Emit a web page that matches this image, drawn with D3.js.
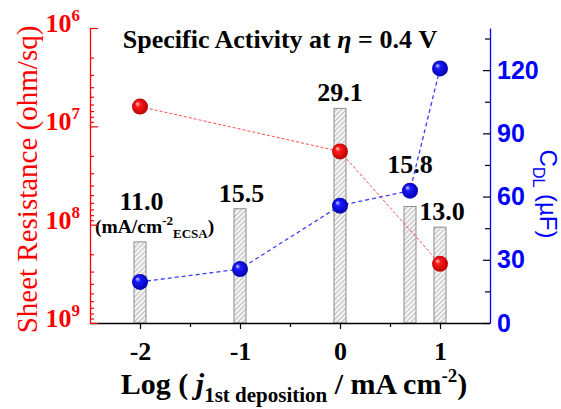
<!DOCTYPE html>
<html><head><meta charset="utf-8">
<script src="https://cdn.jsdelivr.net/npm/d3@7"></script>
<style>body{margin:0;background:#fff}svg{display:block}</style>
</head><body>
<svg id="c" width="561" height="409"></svg>
<script>
// ---- data ----
const barX = [-2, -1, 0, 0.7, 1];
const activity = [11.0, 15.5, 29.1, 15.8, 13.0];
const activityLabels = ["11.0", "15.5", "29.1", "15.8", "13.0"];
const resistanceX = [-2, 0, 1];
const sheetResistance = [6.3e6, 1.8e7, 2.5e8];
const cdlX = [-2, -1, 0, 0.7, 1];
const cdl = [19.5, 25.6, 55.7, 62.8, 120.8];
const xTicks = [-2, -1, 0, 1];
const xMinorTicks = [-1.5, -0.5, 0.5];
const leftTicks = [1e6, 1e7, 1e8, 1e9];
const leftExponents = ["6", "7", "8", "9"];
const rightTicks = [0, 30, 60, 90, 120];
const rightMinorTicks = [15, 45, 75, 105, 135];
// label placement offsets (annotation layout)
const labelDy = [-32, -7, -7.5, -33, -7];
const labelDx = [1.5, 1.5, 0, 0, 2];

// ---- layout ----
const L = 90, R = 490, T = 28, B = 323;
const RED = "#ff0000", BLUE = "#0000ff";
const svg = d3.select("#c");

const x = d3.scaleLinear().domain([-2.5, 1.5]).range([L, R]);
const yL = d3.scaleLog().domain([1e6, 1e9]).range([T, B]);
const yR = d3.scaleLinear().domain([0, 140]).range([B, T]);
const yBar = d3.scaleLinear().domain([0, 40]).range([B, T]);

const defs = svg.append("defs");
const pat = defs.append("pattern").attr("id", "hatch").attr("patternUnits", "userSpaceOnUse")
  .attr("width", 3.5).attr("height", 3.5).attr("patternTransform", "rotate(45)");
pat.append("rect").attr("width", 3.5).attr("height", 3.5).attr("fill", "#f2f2f2");
pat.append("line").attr("x1", 0).attr("y1", 0).attr("x2", 0).attr("y2", 3.5)
  .attr("stroke", "#9a9a9a").attr("stroke-width", 1.1);

function sphere(id, light, mid, dark) {
  const g = defs.append("radialGradient").attr("id", id)
    .attr("cx", "50%").attr("cy", "50%").attr("r", "55%").attr("fx", "32%").attr("fy", "30%");
  g.append("stop").attr("offset", "0%").attr("stop-color", light);
  g.append("stop").attr("offset", "30%").attr("stop-color", mid);
  g.append("stop").attr("offset", "100%").attr("stop-color", dark);
}
sphere("gRed", "#ffd0d0", "#ff1a1a", "#b00000");
sphere("gBlue", "#d0d0ff", "#1a1aff", "#0000a0");

// ---- bars ----
const bw = 12;
svg.append("g").selectAll("rect").data(activity).join("rect")
  .attr("x", (d, i) => x(barX[i]) - bw / 2)
  .attr("y", d => yBar(d))
  .attr("width", bw)
  .attr("height", d => B - yBar(d))
  .attr("fill", "url(#hatch)")
  .attr("stroke", "#8c8c8c").attr("stroke-width", 1);

// bar labels
svg.append("g").selectAll("text").data(activityLabels).join("text")
  .attr("x", (d, i) => x(barX[i]) + labelDx[i])
  .attr("y", (d, i) => yBar(activity[i]) + labelDy[i])
  .attr("text-anchor", "middle")
  .attr("font-family", "Liberation Serif").attr("font-weight", "bold").attr("font-size", 26)
  .attr("fill", "#000").text(d => d);

const unit = svg.append("text").attr("x", 95).attr("y", 233)
  .attr("font-family", "Liberation Serif").attr("font-weight", "bold").attr("font-size", 19.5);
unit.append("tspan").text("(mA/cm");
unit.append("tspan").attr("font-size", 13).attr("dy", -8).text("-2");
unit.append("tspan").attr("font-size", 13).attr("dy", 13).text("ECSA");
unit.append("tspan").attr("dy", -5).text(")");

// ---- lines ----
const lineR = d3.line().x((d, i) => x(resistanceX[i])).y(d => yL(d));
svg.append("path").attr("d", lineR(sheetResistance)).attr("fill", "none")
  .attr("stroke", "#ff4d4d").attr("stroke-width", 1).attr("stroke-dasharray", "3,2");
const lineB = d3.line().x((d, i) => x(cdlX[i])).y(d => yR(d));
svg.append("path").attr("d", lineB(cdl)).attr("fill", "none")
  .attr("stroke", "#3d3dff").attr("stroke-width", 1.3).attr("stroke-dasharray", "4,3");

// ---- points ----
svg.append("g").selectAll("circle").data(sheetResistance).join("circle")
  .attr("cx", (d, i) => x(resistanceX[i])).attr("cy", d => yL(d)).attr("r", 8)
  .attr("fill", "url(#gRed)");
svg.append("g").selectAll("circle").data(cdl).join("circle")
  .attr("cx", (d, i) => x(cdlX[i])).attr("cy", d => yR(d)).attr("r", 8)
  .attr("fill", "url(#gBlue)");

// ---- axes ----
function styleAxis(g, color) {
  g.selectAll("path").attr("stroke", color).attr("stroke-width", 1.3);
  g.selectAll("line").attr("stroke", color).attr("stroke-width", 1.2);
}
// bottom
const gx = svg.append("g").attr("transform", `translate(0,${B})`)
  .call(d3.axisBottom(x).tickValues(xTicks).tickSize(6).tickSizeOuter(0).tickPadding(13)
    .tickFormat(d => String(d).replace("\u2212", "-")));
gx.selectAll("text").attr("font-family", "Liberation Serif").attr("font-weight", "bold")
  .attr("font-size", 26).attr("fill", "#000");
styleAxis(gx, "#000");
const gxm = svg.append("g").attr("transform", `translate(0,${B})`)
  .call(d3.axisBottom(x).tickValues(xMinorTicks).tickSize(4).tickSizeOuter(0).tickFormat(""));
gxm.select("path").remove();
styleAxis(gxm, "#000");

// left (log, reversed)
const leftMinor = [];
[1e6, 1e7, 1e8].forEach(b => { for (let k = 2; k <= 9; k++) leftMinor.push(b * k); });
const gl = svg.append("g").attr("transform", `translate(${L},0)`)
  .call(d3.axisRight(yL).tickValues(leftTicks).tickSize(8).tickSizeOuter(0).tickFormat(""));
styleAxis(gl, RED);
const glm = svg.append("g").attr("transform", `translate(${L},0)`)
  .call(d3.axisRight(yL).tickValues(leftMinor).tickSize(4).tickSizeOuter(0).tickFormat(""));
glm.select("path").remove();
styleAxis(glm, RED);
const ll = svg.append("g").selectAll("text").data(leftTicks).join("text")
  .attr("x", 80).attr("y", d => yL(d) + 4)
  .attr("text-anchor", "end")
  .attr("font-family", "Liberation Serif").attr("font-weight", "bold").attr("font-size", 26)
  .attr("fill", RED);
ll.append("tspan").text("10");
ll.append("tspan").attr("font-size", 17).attr("dy", -11).text((d, i) => leftExponents[i]);

svg.append("text").attr("transform", `translate(37,${(T + B) / 2 + 4}) rotate(-90)`)
  .attr("text-anchor", "middle").attr("font-family", "Liberation Serif").attr("font-size", 29)
  .attr("fill", RED).text("Sheet Resistance (ohm/sq)");

// right
const gr = svg.append("g").attr("transform", `translate(${R},0)`)
  .call(d3.axisRight(yR).tickValues(rightTicks).tickSizeInner(-7).tickSizeOuter(0).tickPadding(7));
gr.selectAll("text").attr("font-family", "Liberation Sans").attr("font-weight", "bold")
  .attr("font-size", 25).attr("fill", BLUE);
gr.selectAll("line").attr("stroke", "#000");
gr.select("path").attr("stroke", BLUE).attr("stroke-width", 1.3);
gr.selectAll("line").attr("stroke-width", 1.2);
const grm = svg.append("g").attr("transform", `translate(${R},0)`)
  .call(d3.axisRight(yR).tickValues(rightMinorTicks).tickSizeInner(-5).tickSizeOuter(0).tickFormat(""));
grm.select("path").remove();
grm.selectAll("line").attr("stroke", "#000").attr("stroke-width", 1.2);

const rt = svg.append("text").attr("transform", `translate(540,194) rotate(90)`)
  .attr("text-anchor", "middle").attr("font-family", "Liberation Sans").attr("font-size", 24)
  .attr("fill", BLUE);
rt.append("tspan").text("C");
rt.append("tspan").attr("font-size", 16).attr("dy", 7).text("DL");
rt.append("tspan").attr("dy", -7).text(" (\u00b5F)");

// x title
const xt = svg.append("text").attr("x", 294).attr("y", 394).attr("text-anchor", "middle")
  .attr("font-family", "Liberation Serif").attr("font-weight", "bold").attr("font-size", 30)
  .attr("fill", "#000");
xt.append("tspan").text("Log ( ");
xt.append("tspan").attr("font-style", "italic").text("j");
xt.append("tspan").attr("font-size", 21).attr("dy", 8).text("1st deposition");
xt.append("tspan").attr("dy", -8).text(" / mA cm");
xt.append("tspan").attr("font-size", 19).attr("dy", -12).text("-2");
xt.append("tspan").attr("dy", 12).text(")");

// chart title
const tt = svg.append("text").attr("x", 280).attr("y", 48).attr("text-anchor", "middle")
  .attr("font-family", "Liberation Serif").attr("font-weight", "bold").attr("font-size", 26)
  .attr("fill", "#000");
tt.append("tspan").text("Specific Activity at ");
tt.append("tspan").attr("font-style", "italic").text("\u03b7");
tt.append("tspan").text(" = 0.4 V");
</script>
</body></html>
